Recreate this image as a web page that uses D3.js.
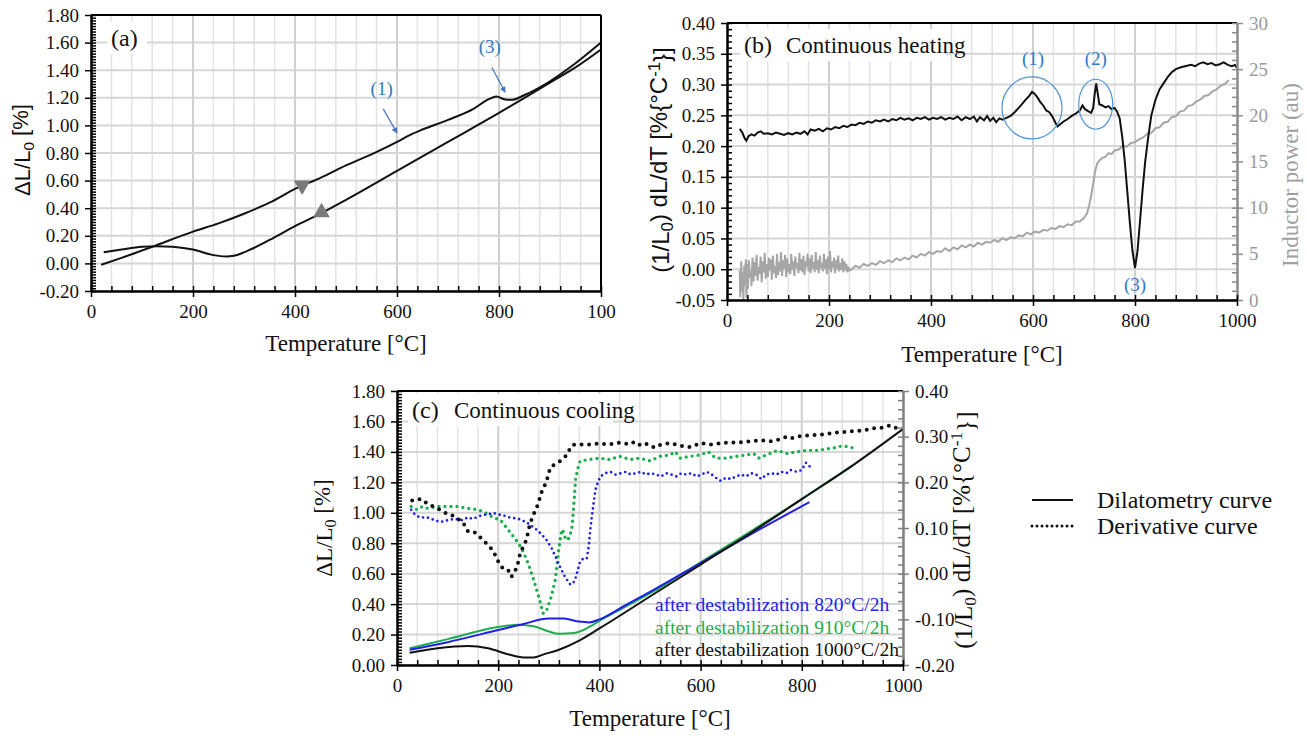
<!DOCTYPE html>
<html>
<head>
<meta charset="utf-8">
<script src="https://cdn.jsdelivr.net/npm/d3@7"></script>
<style>
  body { margin: 0; background: #fff; }
</style>
</head>
<body>
<script>
// ---------- data ----------
// (a) dilatometry, heating and cooling, [T, dL/L0 %]
const aHeating = [[20,-0.01],[60,0.04],[120,0.12],[200,0.23],[250,0.29],[300,0.36],[350,0.44],[400,0.54],[450,0.62],[500,0.71],[550,0.79],[600,0.88],[625,0.93],[650,0.97],[700,1.04],[750,1.12],[780,1.19],[795,1.21],[810,1.19],[825,1.185],[850,1.22],[900,1.32],[950,1.45],[1000,1.60]];
const aCooling = [[25,0.08],[60,0.10],[100,0.12],[130,0.125],[160,0.12],[200,0.10],[240,0.06],[265,0.05],[280,0.055],[300,0.08],[350,0.17],[400,0.27],[450,0.36],[500,0.46],[600,0.67],[700,0.88],[800,1.09],[850,1.20],[900,1.31],[950,1.42],[1000,1.55]];

// (b) continuous heating: derivative [T, %/°C] and inductor power [T, au]
const bDeriv = [[25,.228],[30,.222],[35,.212],[38,.209],[42,.216],[48,.219],[54,.217],[60,.222],[66,.224],[72,.220],[80,.221],[88,.219],[96,.222],[104,.220],[112,.218],[120,.221],[128,.219],[136,.222],[144,.220],[152,.224],[158,.219],[164,.227],[172,.225],[180,.228],[188,.224],[196,.229],[204,.227],[212,.231],[220,.229],[228,.233],[236,.231],[244,.235],[252,.234],[260,.238],[268,.236],[276,.240],[284,.238],[292,.242],[300,.240],[308,.243],[316,.240],[324,.244],[332,.242],[340,.246],[348,.243],[356,.245],[364,.242],[372,.246],[380,.244],[388,.247],[396,.243],[404,.246],[412,.244],[420,.247],[428,.243],[436,.246],[444,.244],[452,.248],[460,.242],[468,.247],[476,.244],[484,.248],[490,.240],[496,.247],[504,.242],[510,.249],[516,.241],[522,.246],[528,.239],[534,.245],[540,.243],[548,.246],[556,.249],[564,.255],[572,.262],[580,.270],[586,.276],[592,.281],[598,.288],[602,.286],[608,.280],[614,.272],[620,.266],[626,.258],[632,.255],[638,.248],[644,.238],[648,.232],[654,.236],[660,.240],[668,.244],[676,.249],[684,.253],[692,.258],[697,.266],[702,.260],[708,.257],[714,.254],[718,.262],[721,.285],[724,.302],[727,.285],[730,.268],[736,.266],[742,.263],[748,.265],[754,.260],[760,.262],[765,.256],[770,.245],[775,.215],[780,.175],[785,.125],[790,.075],[795,.030],[800,.002],[805,.030],[810,.080],[815,.130],[820,.175],[826,.215],[832,.250],[840,.275],[848,.292],[856,.302],[864,.312],[872,.320],[880,.325],[890,.328],[900,.330],[910,.332],[918,.330],[926,.334],[934,.336],[942,.333],[950,.335],[958,.331],[966,.333],[974,.336],[982,.332],[990,.330],[996,.332],[1000,.327]];
const bPower = [[25,3.2],[26,0.3],[27,2.8],[28,4.2],[29,0.9],[31,3.0],[32,0.0],[34,3.8],[35,1.6],[37,4.4],[38,0.2],[40,3.9],[41,1.2],[43,4.3],[45,2.4],[47,3.1],[48,1.5],[50,4.6],[52,2.0],[54,4.1],[56,2.6],[58,4.9],[60,2.1],[62,3.6],[64,2.8],[66,4.7],[68,1.9],[70,4.2],[72,3.0],[74,5.1],[76,2.3],[78,3.9],[80,2.5],[82,4.6],[84,3.2],[86,4.4],[88,2.2],[90,4.8],[92,2.9],[94,3.7],[96,2.4],[98,5.0],[100,2.7],[102,4.1],[104,3.1],[106,5.2],[108,2.6],[110,4.3],[112,3.4],[114,4.9],[116,2.5],[118,4.5],[120,3.0],[122,3.9],[124,2.8],[126,5.0],[128,3.3],[130,4.2],[132,2.6],[134,4.7],[136,3.5],[138,4.0],[140,2.9],[142,5.1],[144,3.2],[146,4.4],[148,3.0],[150,4.8],[152,2.7],[154,4.2],[156,3.6],[158,5.0],[160,3.1],[162,4.5],[164,2.9],[166,4.9],[168,3.4],[170,4.1],[172,3.0],[174,5.2],[176,3.3],[178,4.3],[180,2.9],[182,4.8],[184,3.5],[186,4.0],[188,3.1],[190,5.0],[192,3.4],[194,4.4],[196,2.8],[198,4.7],[200,3.3],[202,5.3],[204,3.0],[206,4.2],[208,3.5],[210,4.6],[212,2.9],[214,4.3],[216,3.4],[218,4.8],[220,3.1],[222,4.0],[224,3.3],[226,4.5],[228,3.0],[230,4.2],[232,3.2],[234,3.9],[236,3.0],[238,3.6],[240,3.2],[244,3.3],[252,3.7],[260,3.5],[268,3.9],[276,3.7],[284,4.0],[292,3.8],[300,4.2],[308,4.0],[316,4.3],[324,4.1],[332,4.5],[340,4.3],[348,4.6],[356,4.4],[364,4.8],[372,4.6],[380,5.0],[388,4.8],[396,5.2],[404,5.0],[412,5.3],[420,5.2],[428,5.6],[436,5.3],[444,5.7],[452,5.5],[460,5.9],[468,5.7],[476,6.0],[484,5.8],[492,6.2],[500,6.0],[508,6.3],[516,6.2],[524,6.5],[532,6.3],[540,6.7],[548,6.5],[556,6.8],[564,6.7],[572,7.0],[580,6.9],[588,7.3],[596,7.1],[604,7.4],[612,7.3],[620,7.6],[628,7.5],[636,7.8],[644,7.7],[652,8.0],[660,7.9],[668,8.2],[676,8.1],[684,8.5],[692,8.5],[700,8.9],[706,9.4],[710,10.2],[714,11.3],[718,12.6],[722,14.0],[726,14.8],[730,15.1],[736,15.4],[742,15.5],[748,15.9],[754,15.8],[760,16.2],[768,16.3],[776,16.7],[784,16.6],[792,17.0],[800,17.1],[808,17.4],[816,17.6],[824,18.0],[832,18.1],[840,18.6],[848,18.7],[856,19.2],[864,19.3],[872,19.8],[880,19.9],[888,20.4],[896,20.5],[904,21.0],[912,21.1],[920,21.5],[928,21.7],[936,22.1],[944,22.2],[952,22.6],[960,22.8],[968,23.2],[976,23.4],[984,23.8]];

// (c) continuous cooling: dilatometry [T, %] and derivative [T, %/°C]
const cDil820 = [[25,0.10],[100,0.15],[200,0.23],[250,0.27],[300,0.305],[330,0.305],[360,0.285],[380,0.28],[400,0.30],[450,0.39],[500,0.48],[600,0.67],[700,0.86],[815,1.07]];
const cDil910 = [[25,0.11],[100,0.17],[200,0.25],[240,0.265],[270,0.255],[300,0.22],[320,0.205],[350,0.21],[380,0.25],[400,0.29],[450,0.38],[500,0.47],[600,0.675],[700,0.88],[800,1.09],[900,1.31]];
const cDil1000 = [[25,0.08],[80,0.11],[140,0.125],[180,0.11],[220,0.07],[250,0.05],[270,0.05],[290,0.07],[320,0.10],[360,0.16],[400,0.24],[500,0.45],[600,0.66],[700,0.87],[800,1.09],[900,1.31],[1000,1.55]];
const cDer820 = [[28,.140],[35,.130],[45,.123],[60,.123],[75,.117],[85,.113],[100,.117],[115,.120],[130,.117],[139,.123],[150,.120],[165,.127],[180,.130],[190,.133],[200,.130],[212,.127],[223,.123],[240,.120],[255,.113],[263,.107],[275,.097],[285,.087],[296,.073],[305,.057],[315,.033],[323,.013],[332,-.007],[342,-.023],[347,-.023],[352,-.013],[357,.007],[362,.027],[368,.033],[375,.033],[379,.060],[382,.097],[386,.133],[392,.183],[397,.200],[402,.213],[412,.220],[422,.223],[432,.217],[442,.220],[452,.223],[462,.217],[472,.220],[482,.223],[492,.217],[502,.220],[512,.217],[522,.213],[532,.220],[542,.217],[552,.213],[562,.220],[572,.217],[582,.220],[592,.213],[602,.217],[612,.223],[622,.217],[630,.210],[640,.203],[650,.210],[660,.207],[670,.213],[680,.217],[690,.213],[700,.220],[710,.217],[720,.207],[730,.217],[740,.220],[750,.217],[760,.223],[770,.220],[778,.227],[790,.223],[800,.227],[808,.243],[813,.237],[818,.233]];
const cDer910 = [[28,.147],[40,.140],[50,.147],[60,.143],[80,.147],[100,.147],[120,.147],[140,.143],[160,.140],[175,.133],[190,.123],[205,.117],[224,.090],[240,.067],[250,.047],[260,.020],[270,-.013],[280,-.050],[289,-.087],[295,-.083],[305,-.050],[313,-.013],[319,.047],[324,.087],[327,.097],[332,.080],[336,.073],[341,.080],[346,.103],[350,.160],[353,.207],[358,.233],[362,.247],[380,.250],[400,.253],[420,.250],[440,.257],[460,.250],[480,.253],[500,.247],[520,.257],[540,.260],[550,.267],[560,.253],[580,.257],[600,.260],[615,.267],[630,.253],[650,.253],[670,.257],[690,.260],[705,.263],[715,.253],[730,.260],[752,.270],[770,.263],[790,.267],[810,.270],[830,.270],[850,.273],[870,.277],[880,.280],[895,.277],[910,.273]];
const cDer1000 = [[30,.160],[40,.163],[50,.163],[60,.153],[70,.148],[80,.143],[90,.137],[100,.130],[110,.127],[120,.120],[130,.113],[140,.093],[150,.093],[160,.085],[170,.073],[180,.063],[190,.050],[200,.027],[210,.010],[220,.007],[226,-.007],[232,.002],[238,.018],[244,.047],[250,.060],[256,.075],[263,.110],[270,.130],[278,.150],[287,.183],[295,.200],[303,.233],[313,.240],[323,.247],[333,.257],[340,.270],[347,.282],[360,.283],[380,.283],[400,.285],[420,.283],[440,.287],[460,.283],[470,.289],[480,.282],[490,.286],[500,.280],[510,.276],[520,.282],[540,.286],[560,.280],[580,.277],[600,.286],[620,.283],[640,.286],[660,.287],[680,.288],[700,.290],[720,.292],[740,.290],[760,.295],[770,.300],[780,.297],[800,.302],[820,.303],[840,.305],[860,.308],[880,.310],[900,.312],[920,.313],[940,.318],[960,.320],[975,.325],[985,.320],[995,.316]];

// tick labels
const tempTicks = [0, 200, 400, 600, 800, 1000];
const aTempLabels = ['0', '200', '400', '600', '800', '100'];
const aYTicks = [-0.2, 0, 0.2, 0.4, 0.6, 0.8, 1.0, 1.2, 1.4, 1.6, 1.8];
const bYTicks = [-0.05, 0, 0.05, 0.10, 0.15, 0.20, 0.25, 0.30, 0.35, 0.40];
const bPowerTicks = [0, 5, 10, 15, 20, 25, 30];
const cYTicks = [0, 0.2, 0.4, 0.6, 0.8, 1.0, 1.2, 1.4, 1.6, 1.8];
const cDerTicks = [-0.2, -0.1, 0, 0.1, 0.2, 0.3, 0.4];
const cSeriesNames = ['after destabilization 820°C/2h', 'after destabilization 910°C/2h', 'after destabilization 1000°C/2h'];

// ---------- setup ----------
const width = 1307, height = 736;
const serif = "'Liberation Serif','Times New Roman',serif";
const sans = "'Liberation Sans',Arial,sans-serif";
const BLUE = '#1f1fe6', GREEN = '#1fae4f', GREY = '#a6a6a6', NOTE = '#2e7bc4';

const svg = d3.select('body').append('svg')
  .attr('width', width).attr('height', height)
  .style('background', '#fff');

const pa = {l: 91, r: 601, t: 15, b: 291};
const pb = {l: 727, r: 1237, t: 23, b: 300};
const pc = {l: 397, r: 903, t: 391, b: 665};

const xa = d3.scaleLinear([0, 1000], [pa.l, pa.r]);
const ya = d3.scaleLinear([-0.2, 1.8], [pa.b, pa.t]);
const xb = d3.scaleLinear([0, 1000], [pb.l, pb.r]);
const yb = d3.scaleLinear([-0.05, 0.4], [pb.b, pb.t]);
const yb2 = d3.scaleLinear([0, 30], [pb.b, pb.t]);
const xc = d3.scaleLinear([0, 1000], [pc.l, pc.r]);
const yc = d3.scaleLinear([0, 1.8], [pc.b, pc.t]);
const yc2 = d3.scaleLinear([-0.2, 0.4], [pc.b, pc.t]);

const fix2 = v => v.toFixed(2);

function grid(x, y, yTicks) {
  const g = svg.append('g');
  g.selectAll(null).data(d3.range(40, 1000, 40)).join('line')
    .attr('x1', d => x(d)).attr('x2', d => x(d))
    .attr('y1', y.range()[0]).attr('y2', y.range()[1])
    .attr('stroke', d => d % 200 === 0 ? '#cfcfcf' : '#e3e3e3')
    .attr('stroke-width', d => d % 200 === 0 ? 2 : 1.5);
  g.selectAll(null).data(yTicks).join('line')
    .attr('x1', x.range()[0]).attr('x2', x.range()[1])
    .attr('y1', d => y(d)).attr('y2', d => y(d))
    .attr('stroke', '#d6d6d6').attr('stroke-width', 2);
}

function styleAxis(sel, color, labelColor) {
  sel.attr('font-family', serif).attr('font-size', 19);
  sel.select('.domain').attr('stroke', color).attr('stroke-width', 2);
  sel.selectAll('.tick line').attr('stroke', color).attr('stroke-width', 1.5);
  sel.selectAll('.tick text').attr('fill', labelColor)
    .style('font-family', serif).style('font-size', '19px');
}

function xAxis(x, y0, labels) {
  svg.append('g').attr('transform', `translate(0,${y0})`)
    .call(d3.axisBottom(x).tickValues(d3.range(0, 1001, 40)).tickSize(-5).tickSizeOuter(0).tickFormat(''))
    .call(s => styleAxis(s, '#000', '#000'));
  svg.append('g').attr('transform', `translate(0,${y0})`)
    .call(d3.axisBottom(x).tickValues(tempTicks).tickSize(6).tickSizeOuter(0).tickPadding(8)
      .tickFormat((d, i) => labels[i]))
    .call(s => styleAxis(s, '#000', '#111'));
}

function yAxis(y, x0, majors, step, side, color, labelColor, fmt) {
  const axis = side === 'left' ? d3.axisLeft : d3.axisRight;
  const dom = y.domain();
  const minors = d3.range(Math.round((dom[1] - dom[0]) / step) + 1).map(i => dom[0] + i * step);
  svg.append('g').attr('transform', `translate(${x0},0)`)
    .call(axis(y).tickValues(minors).tickSize(-5).tickSizeOuter(0).tickFormat(''))
    .call(s => styleAxis(s, color, labelColor));
  svg.append('g').attr('transform', `translate(${x0},0)`)
    .call(axis(y).tickValues(majors).tickSize(6).tickSizeOuter(0).tickPadding(6).tickFormat(fmt))
    .call(s => styleAxis(s, color, labelColor));
}

function hline(x1, x2, y, color) {
  svg.append('line').attr('x1', x1).attr('x2', x2).attr('y1', y).attr('y2', y)
    .attr('stroke', color).attr('stroke-width', 2);
}

function vtitle(x, y, parts, font, size, color) {
  const t = svg.append('text')
    .attr('transform', `translate(${x},${y}) rotate(-90)`)
    .attr('text-anchor', 'middle')
    .style('font-family', font).style('font-size', size + 'px').attr('fill', color);
  parts.forEach(p => {
    const s = t.append('tspan').text(p[0]);
    if (p[1] === 'sub') s.attr('dy', '0.25em').style('font-size', (size * 0.7) + 'px');
    if (p[1] === 'sup') s.attr('dy', '-0.45em').style('font-size', (size * 0.7) + 'px');
    if (p[1] === 'backsub') s.attr('dy', '-0.25em');
    if (p[1] === 'backsup') s.attr('dy', '0.45em');
  });
}

function htext(x, y, str, size, color, anchor, font) {
  return svg.append('text').attr('x', x).attr('y', y).text(str)
    .attr('text-anchor', anchor || 'start').attr('fill', color)
    .style('font-family', font || serif).style('font-size', size + 'px');
}

function tag(x, y, letter, title) {
  const w = title ? 205 : 40;
  svg.append('rect').attr('x', x - 4).attr('y', y - 24).attr('width', w).attr('height', 32).attr('fill', '#fff');
  htext(x, y, letter, 24, '#111');
  if (title) htext(x + 42, y, title, 23, '#111');
}

// ---------- panel (a) ----------
grid(xa, ya, aYTicks);
tag(111, 46, '(a)');
const lineA = d3.line().x(d => xa(d[0])).y(d => ya(d[1])).curve(d3.curveMonotoneX);
[aHeating, aCooling].forEach(s => {
  svg.append('path').datum(s).attr('d', lineA)
    .attr('fill', 'none').attr('stroke', '#111').attr('stroke-width', 2);
});
// direction markers
const tri = d3.symbol(d3.symbolTriangle, 120);
svg.append('path').attr('d', tri)
  .attr('transform', `translate(${xa(414)},${ya(0.565)}) rotate(180)`).attr('fill', '#7a7a7a');
svg.append('path').attr('d', tri)
  .attr('transform', `translate(${xa(452)},${ya(0.37)})`).attr('fill', '#7a7a7a');

// arrows for (1) and (3)
svg.append('defs').append('marker').attr('id', 'ah')
  .attr('viewBox', '0 0 10 10').attr('refX', 9).attr('refY', 5)
  .attr('markerWidth', 5).attr('markerHeight', 5).attr('orient', 'auto')
  .append('path').attr('d', 'M0,0L10,5L0,10z').attr('fill', '#4472c4');
[[573, 1.12, 600, 0.945], [786, 1.42, 812, 1.24]].forEach(a => {
  svg.append('line').attr('x1', xa(a[0])).attr('y1', ya(a[1])).attr('x2', xa(a[2])).attr('y2', ya(a[3]))
    .attr('stroke', '#4472c4').attr('stroke-width', 1.2).attr('marker-end', 'url(#ah)');
});
htext(xa(570), ya(1.22), '(1)', 19, NOTE, 'middle');
htext(xa(782), ya(1.525), '(3)', 19, NOTE, 'middle');

hline(pa.l, pa.r, pa.t, '#000');
svg.append('line').attr('x1', pa.r).attr('x2', pa.r).attr('y1', pa.t).attr('y2', pa.b)
  .attr('stroke', '#000').attr('stroke-width', 2);
yAxis(ya, pa.l, aYTicks, 0.02, 'left', '#000', '#111', fix2);
xAxis(xa, pa.b, aTempLabels);
htext((pa.l + pa.r) / 2, 351, 'Temperature [°C]', 23, '#111', 'middle');
vtitle(30, 150, [['ΔL/L'], ['0', 'sub'], [' [%]', 'backsub']], sans, 22, '#111');

// ---------- panel (b) ----------
grid(xb, yb, bYTicks);
tag(744, 53, '(b)', 'Continuous heating');
svg.append('path').datum(bPower)
  .attr('d', d3.line().x(d => xb(d[0])).y(d => yb2(d[1])))
  .attr('fill', 'none').attr('stroke', GREY).attr('stroke-width', 2);
svg.append('path').datum(bDeriv)
  .attr('d', d3.line().x(d => xb(d[0])).y(d => yb(d[1])))
  .attr('fill', 'none').attr('stroke', '#111').attr('stroke-width', 2);
// circled events
[[598, 0.262, 30, 31], [723, 0.268, 17, 25]].forEach(e => {
  svg.append('ellipse').attr('cx', xb(e[0])).attr('cy', yb(e[1])).attr('rx', e[2]).attr('ry', e[3])
    .attr('fill', 'none').attr('stroke', '#4d94d6').attr('stroke-width', 1.2);
});
htext(xb(600), yb(0.331), '(1)', 19, NOTE, 'middle');
htext(xb(723), yb(0.331), '(2)', 19, NOTE, 'middle');
htext(xb(800), yb(-0.036), '(3)', 19, NOTE, 'middle');

hline(pb.l, pb.r, pb.t, '#000');
yAxis(yb, pb.l, bYTicks, 0.01, 'left', '#000', '#111', fix2);
yAxis(yb2, pb.r, bPowerTicks, 1, 'right', '#8c8c8c', '#9a9a9a', d => d);
xAxis(xb, pb.b, tempTicks.map(String));
htext((pb.l + pb.r) / 2, 362, 'Temperature [°C]', 23, '#111', 'middle');
vtitle(669, 160, [['(1/L'], ['0', 'sub'], [') dL/dT [%{°C', 'backsub'], ['-1', 'sup'], ['}]', 'backsup']], sans, 24, '#111');
vtitle(1298, 175, [['Inductor power (au)']], serif, 23, '#a0a0a0');

// ---------- panel (c) ----------
grid(xc, yc, cYTicks);
tag(412, 418, '(c)', 'Continuous cooling');
const lineC = d3.line().x(d => xc(d[0])).y(d => yc(d[1])).curve(d3.curveMonotoneX);
const lineC2 = d3.line().x(d => xc(d[0])).y(d => yc2(d[1]));
const cSeries = [
  {dil: cDil910, der: cDer910, color: GREEN, w: 3.4, gap: 6},
  {dil: cDil820, der: cDer820, color: BLUE, w: 2.7, gap: 5},
  {dil: cDil1000, der: cDer1000, color: '#111', w: 4, gap: 7.5}
];
cSeries.forEach(s => {
  svg.append('path').datum(s.der).attr('d', lineC2)
    .attr('fill', 'none').attr('stroke', s.color).attr('stroke-width', s.w)
    .attr('stroke-linecap', 'round').attr('stroke-dasharray', `0 ${s.gap}`);
});
cSeries.forEach(s => {
  svg.append('path').datum(s.dil).attr('d', lineC)
    .attr('fill', 'none').attr('stroke', s.color).attr('stroke-width', 2);
});
[BLUE, GREEN, '#111'].forEach((c, i) => {
  htext(655, 611 + i * 22.5, cSeriesNames[i], 19.5, c);
});

hline(pc.l, pc.r, pc.t, '#000');
yAxis(yc, pc.l, cYTicks, 0.02, 'left', '#000', '#111', fix2);
yAxis(yc2, pc.r, cDerTicks, 0.02, 'right', '#7f7f7f', '#111', fix2);
xAxis(xc, pc.b, tempTicks.map(String));
htext((pc.l + pc.r) / 2, 726, 'Temperature [°C]', 23, '#111', 'middle');
vtitle(332, 528, [['ΔL/L'], ['0', 'sub'], [' [%]', 'backsub']], serif, 23, '#111');
vtitle(972, 530, [['(1/L'], ['0', 'sub'], [') dL/dT [%{°C', 'backsub'], ['-1', 'sup'], ['}]', 'backsup']], serif, 25, '#111');

// ---------- legend ----------
const legendItems = [
  {label: 'Dilatometry curve', dash: null, y: 500},
  {label: 'Derivative curve', dash: '0 5', y: 526}
];
legendItems.forEach(it => {
  const ln = svg.append('line').attr('x1', 1032).attr('x2', 1073).attr('y1', it.y).attr('y2', it.y)
    .attr('stroke', '#111').attr('stroke-width', it.dash ? 3 : 2.2).attr('stroke-linecap', it.dash ? 'round' : 'butt');
  if (it.dash) ln.attr('stroke-dasharray', it.dash);
  htext(1097, it.y + 8, it.label, 24, '#111');
});
</script>
</body>
</html>
